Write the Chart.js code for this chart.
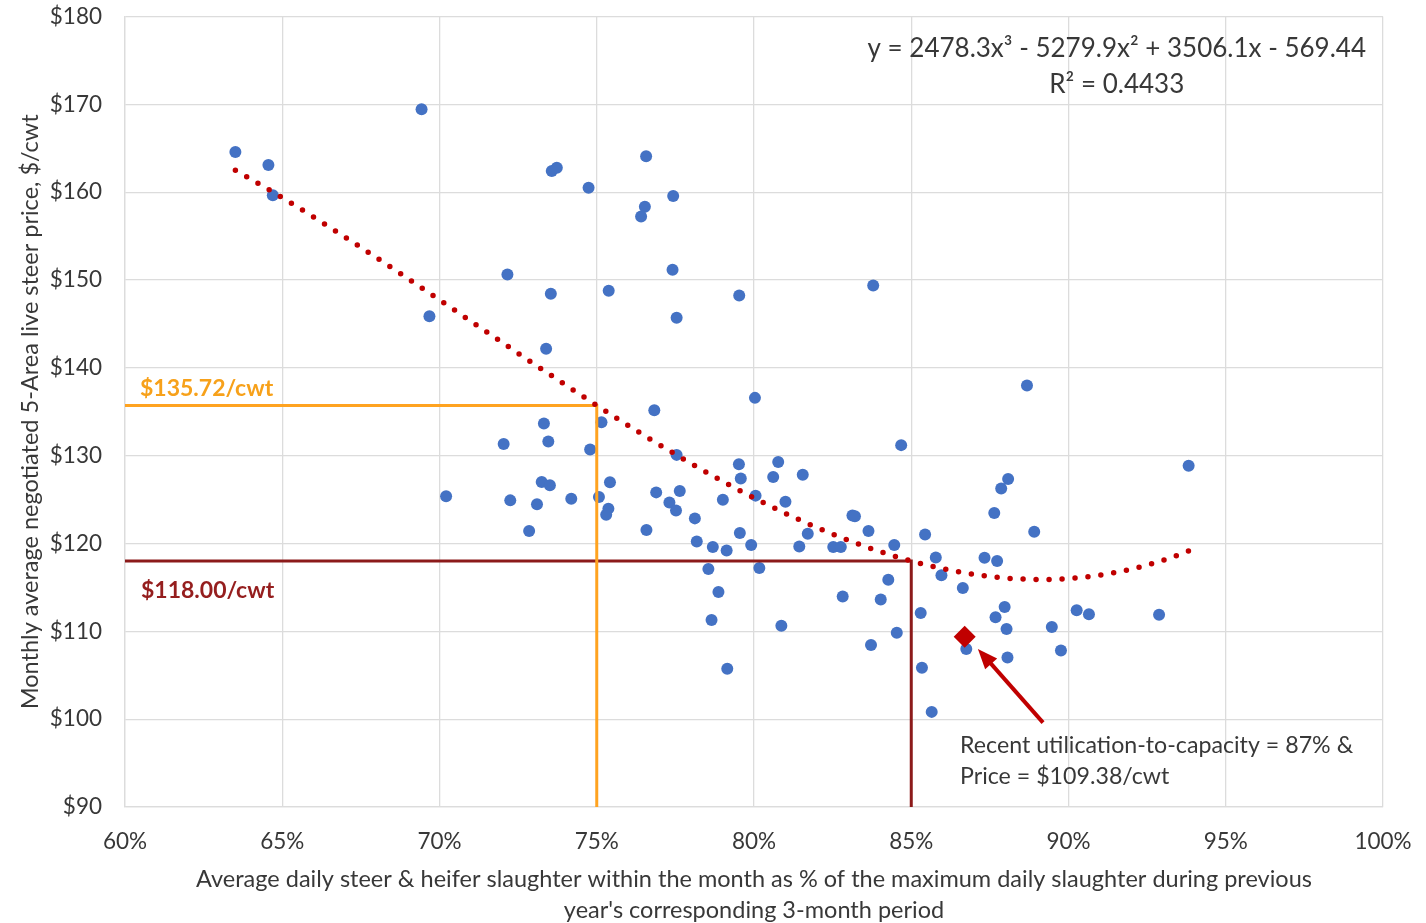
<!DOCTYPE html>
<html>
<head>
<meta charset="utf-8">
<script src="https://cdn.jsdelivr.net/npm/chart.js@4.4.1/dist/chart.umd.min.js"></script>
<style>
  html, body { margin: 0; padding: 0; background: #ffffff; }
  #wrap { width: 1426px; height: 923px; position: relative; }
</style>
</head>
<body>
<div id="wrap"><canvas id="chart"></canvas></div>
<script>
// Monthly observations: slaughter utilization (share of prior-year max) and 5-Area live steer price ($/cwt)
const utilization = [
  0.6351, 0.6456, 0.6470, 0.6943, 0.7357, 0.7373, 0.7657, 0.7474, 0.7743, 0.7653,
  0.7641, 0.7216, 0.7741, 0.7354, 0.7538, 0.7953, 0.8379, 0.6968, 0.7754, 0.7339,
  0.8003, 0.7683, 0.7332, 0.7515, 0.7204, 0.7346, 0.7479, 0.7754, 0.7952, 0.8077,
  0.7958, 0.8061, 0.8155, 0.8468, 0.7021, 0.7325, 0.7351, 0.7542, 0.7225, 0.7310,
  0.7419, 0.7507, 0.7537, 0.7530, 0.7689, 0.7764, 0.7731, 0.7752, 0.7901, 0.8005,
  0.8100, 0.7285, 0.7658, 0.7812, 0.7818, 0.7869, 0.7913, 0.7955, 0.7991, 0.8144,
  0.8171, 0.8252, 0.8276, 0.8313, 0.8321, 0.8364, 0.8446, 0.7855, 0.8017, 0.7887,
  0.8282, 0.8403, 0.8427, 0.7865, 0.8087, 0.7915, 0.8454, 0.8372, 0.8530, 0.8534,
  0.8565, 0.8675, 0.8868, 0.9382, 0.8808, 0.8786, 0.8764, 0.8891, 0.8544, 0.8578,
  0.8733, 0.8773, 0.8596, 0.8664, 0.8797, 0.8768, 0.9026, 0.9065, 0.9288, 0.8803,
  0.8806, 0.8947, 0.8976
];
const price = [
  164.57, 163.09, 159.64, 169.43, 162.41, 162.79, 164.08, 160.51, 159.56, 158.35,
  157.24, 150.63, 151.17, 148.43, 148.77, 148.24, 149.38, 145.88, 145.70, 142.17,
  136.58, 135.17, 133.65, 133.80, 131.34, 131.60, 130.69, 130.09, 129.02, 129.29,
  127.39, 127.58, 127.84, 131.20, 125.37, 127.01, 126.62, 126.97, 124.91, 124.46,
  125.10, 125.30, 123.97, 123.28, 125.82, 125.98, 124.68, 123.77, 124.99, 125.45,
  124.76, 121.42, 121.54, 122.86, 120.24, 119.60, 119.21, 121.19, 119.83, 119.67,
  121.12, 119.60, 119.60, 123.20, 123.09, 121.42, 119.83, 117.09, 117.21, 114.47,
  113.97, 113.63, 115.87, 111.30, 110.64, 105.74, 109.85, 108.45, 112.10, 105.85,
  100.83, 108.00, 137.98, 128.86, 127.34, 126.27, 123.46, 121.33, 121.03, 118.40,
  118.37, 118.02, 116.39, 114.94, 112.78, 111.60, 112.40, 111.94, 111.90, 110.26,
  107.02, 110.49, 107.81
];

// Most recent month
const recentUtil = [0.867];
const recentPrice = [109.38];

// Cubic trendline y = a x^3 + b x^2 + c x + d, and its fit
const trendCoef = [2478.3, -5279.9, 3506.1, -569.44];
const trendR2 = 0.4433;

const refUtil = [0.75, 0.85];
const refPrice = [135.72, 118.00];

// Axis ticks
const xTickValues = [0.60, 0.65, 0.70, 0.75, 0.80, 0.85, 0.90, 0.95, 1.00];
const yTickValues = [90, 100, 110, 120, 130, 140, 150, 160, 170, 180];

const xTitle = [
  'Average daily steer & heifer slaughter within the month as % of the maximum daily slaughter during previous',
  "year's corresponding 3-month period"
];
const yTitle = 'Monthly average negotiated 5-Area live steer price, $/cwt';

const FONT = 'Lato';
const TEXT = '#383838';

const scatterPoints = utilization.map((u, i) => ({ x: u, y: price[i] }));

function trendAt(u) {
  const [a, b, c, d] = trendCoef;
  return ((a * u + b) * u + c) * u + d;
}
const uMin = Math.min(...utilization);
const uMax = Math.max(...utilization);
const trendPoints = [];
for (let i = 0; i <= 300; i++) {
  const u = uMin + (uMax - uMin) * i / 300;
  trendPoints.push({ x: u, y: trendAt(u) });
}

const refColors = ['#FFA320', '#8C1A1A'];
const refLabelColors = ['#F7A11A', '#951E1E'];
const refDatasets = refUtil.map((u, i) => ({
  type: 'line',
  data: [{ x: xTickValues[0], y: refPrice[i] }, { x: u, y: refPrice[i] }, { x: u, y: yTickValues[0] }],
  borderColor: refColors[i],
  borderWidth: 3,
  pointRadius: 0,
  tension: 0,
  fill: false,
  order: 3
}));

const money = v => '$' + v.toFixed(2) + '/cwt';

const notes = {
  id: 'notes',
  afterDatasetsDraw(chart) {
    const { ctx, chartArea: area, scales: { x, y } } = chart;
    ctx.save();

    // labels on the reference lines
    ctx.font = `bold 23px ${FONT}`;
    ctx.textAlign = 'left';
    ctx.textBaseline = 'alphabetic';
    ctx.fillStyle = refLabelColors[0];
    ctx.fillText(money(refPrice[0]), area.left + 15, y.getPixelForValue(refPrice[0]) - 9);
    ctx.fillStyle = refLabelColors[1];
    ctx.fillText(money(refPrice[1]), area.left + 16, y.getPixelForValue(refPrice[1]) + 37);

    // trendline equation
    const [a, b, c, d] = trendCoef;
    const eq = `y = ${a}x\u00B3 - ${Math.abs(b)}x\u00B2 + ${c}x - ${Math.abs(d)}`;
    ctx.font = `26px ${FONT}`;
    ctx.fillStyle = TEXT;
    const w = ctx.measureText(eq).width;
    const cx = area.right - 17 - w / 2;
    ctx.textAlign = 'center';
    ctx.fillText(eq, cx, area.top + 40);
    ctx.fillText(`R\u00B2 = ${trendR2}`, cx, area.top + 76);

    // arrow pointing at the latest month
    const tipX = x.getPixelForValue(0.8712), tipY = y.getPixelForValue(108.0);
    const tailX = x.getPixelForValue(0.8919), tailY = y.getPixelForValue(99.6);
    const ang = Math.atan2(tipY - tailY, tipX - tailX);
    const head = 20, half = 8;
    ctx.strokeStyle = '#C00000';
    ctx.fillStyle = '#C00000';
    ctx.lineWidth = 4;
    ctx.beginPath();
    ctx.moveTo(tailX, tailY);
    ctx.lineTo(tipX - Math.cos(ang) * head * 0.8, tipY - Math.sin(ang) * head * 0.8);
    ctx.stroke();
    ctx.beginPath();
    ctx.moveTo(tipX, tipY);
    ctx.lineTo(tipX - Math.cos(ang) * head + Math.sin(ang) * half, tipY - Math.sin(ang) * head - Math.cos(ang) * half);
    ctx.lineTo(tipX - Math.cos(ang) * head - Math.sin(ang) * half, tipY - Math.sin(ang) * head + Math.cos(ang) * half);
    ctx.closePath();
    ctx.fill();

    // caption for the latest month
    ctx.font = `23.2px ${FONT}`;
    ctx.fillStyle = TEXT;
    ctx.textAlign = 'left';
    ctx.fillText(`Recent utilication-to-capacity = ${Math.round(recentUtil[0] * 100)}% &`, tailX - 83, tailY + 30);
    ctx.fillText(`Price = $${recentPrice[0].toFixed(2)}/cwt`, tailX - 83, tailY + 61);

    ctx.restore();
  }
};

const gridColor = '#DCDCDC';
const noTick = 'rgba(0,0,0,0)';

new Chart(document.getElementById('chart'), {
  type: 'scatter',
  data: {
    datasets: [
      {
        data: scatterPoints,
        backgroundColor: '#4472C4',
        borderWidth: 0,
        pointRadius: 6,
        order: 5
      },
      ...refDatasets,
      {
        type: 'line',
        data: trendPoints,
        borderColor: '#C00000',
        borderWidth: 5.5,
        borderDash: [0, 13],
        borderCapStyle: 'round',
        pointRadius: 0,
        tension: 0,
        fill: false,
        order: 2
      },
      {
        data: recentUtil.map((u, i) => ({ x: u, y: recentPrice[i] })),
        backgroundColor: '#C00000',
        borderWidth: 0,
        pointStyle: 'rectRot',
        pointRadius: 11,
        order: 1
      }
    ]
  },
  options: {
    responsive: true,
    maintainAspectRatio: false,
    animation: false,
    layout: { padding: { left: 0, right: 43, top: 1, bottom: 0 } },
    plugins: { legend: { display: false }, tooltip: { enabled: false } },
    scales: {
      x: {
        type: 'linear',
        min: xTickValues[0],
        max: xTickValues[xTickValues.length - 1],
        afterBuildTicks: s => { s.ticks = xTickValues.map(v => ({ value: v })); },
        afterFit: s => { s.height = 116; },
        grid: { color: gridColor, lineWidth: 1.3, drawTicks: true, tickLength: 18, tickColor: noTick },
        border: { color: gridColor, width: 1.3 },
        ticks: {
          padding: 3,
          color: TEXT,
          font: { family: FONT, size: 22.5 },
          callback: v => Math.round(v * 100) + '%'
        },
        title: {
          display: true,
          text: xTitle,
          color: TEXT,
          font: { family: FONT, size: 23.5, lineHeight: 1.32 },
          padding: { top: 0, bottom: -3 }
        }
      },
      y: {
        type: 'linear',
        min: yTickValues[0],
        max: yTickValues[yTickValues.length - 1],
        afterBuildTicks: s => { s.ticks = yTickValues.map(v => ({ value: v })); },
        afterFit: s => { s.width = 125; },
        grid: { color: gridColor, lineWidth: 1.3, drawTicks: true, tickLength: 20, tickColor: noTick },
        border: { color: gridColor, width: 1.3 },
        ticks: {
          padding: 3,
          color: TEXT,
          font: { family: FONT, size: 22.5 },
          callback: v => '$' + v
        },
        title: {
          display: true,
          text: yTitle,
          color: TEXT,
          font: { family: FONT, size: 23.5, lineHeight: 1.2 },
          padding: { top: 16, bottom: 0 }
        }
      }
    }
  },
  plugins: [notes]
});
</script>
</body>
</html>
